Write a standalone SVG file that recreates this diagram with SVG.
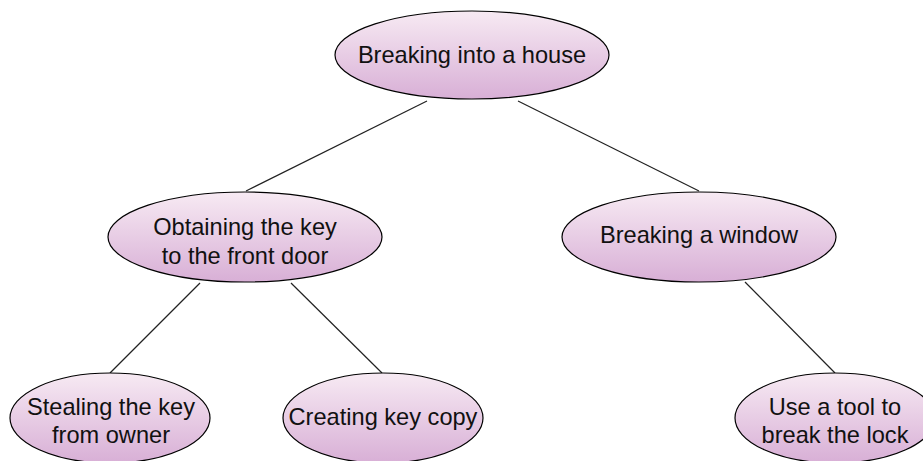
<svg xmlns="http://www.w3.org/2000/svg" width="923" height="461" viewBox="0 0 923 461">
<defs>
<linearGradient id="g" x1="0" y1="0" x2="0" y2="1">
<stop offset="0" stop-color="#f7eaf3"/>
<stop offset="1" stop-color="#d8afd6"/>
</linearGradient>
<style>
.n{fill:url(#g);stroke:#000;stroke-width:1.2}
.t{font-family:"Liberation Sans",Arial,sans-serif;font-size:23.6px;fill:#111;text-anchor:middle}
.c{stroke:#222;stroke-width:1.2;fill:none}
</style>
</defs>
<rect width="923" height="461" fill="#fff"/>
<g id="connectors">
<line class="c" x1="427" y1="101" x2="246" y2="191"/>
<line class="c" x1="518" y1="101" x2="699" y2="191"/>
<line class="c" x1="200" y1="283" x2="110" y2="373"/>
<line class="c" x1="291" y1="283" x2="382" y2="373"/>
<line class="c" x1="745" y1="282" x2="835" y2="373"/>
</g>
<g id="root">
<ellipse class="n" cx="472" cy="55" rx="137" ry="44"/>
<text class="t" x="472" y="63">Breaking into a house</text>
</g>
<g id="key">
<ellipse class="n" cx="245" cy="237" rx="137" ry="45"/>
<text class="t" x="245" y="235">Obtaining the key</text>
<text class="t" x="245" y="264">to the front door</text>
</g>
<g id="window">
<ellipse class="n" cx="699" cy="237" rx="137" ry="45"/>
<text class="t" x="699" y="243">Breaking a window</text>
</g>
<g id="steal">
<ellipse class="n" cx="110" cy="418" rx="100" ry="45"/>
<text class="t" x="111" y="415">Stealing the key</text>
<text class="t" x="111" y="443">from owner</text>
</g>
<g id="copy">
<ellipse class="n" cx="383" cy="418" rx="100" ry="45"/>
<text class="t" x="383" y="425">Creating key copy</text>
</g>
<g id="tool">
<ellipse class="n" cx="835" cy="418" rx="100" ry="45"/>
<text class="t" x="835" y="415">Use a tool to</text>
<text class="t" x="835" y="443">break the lock</text>
</g>
</svg>
